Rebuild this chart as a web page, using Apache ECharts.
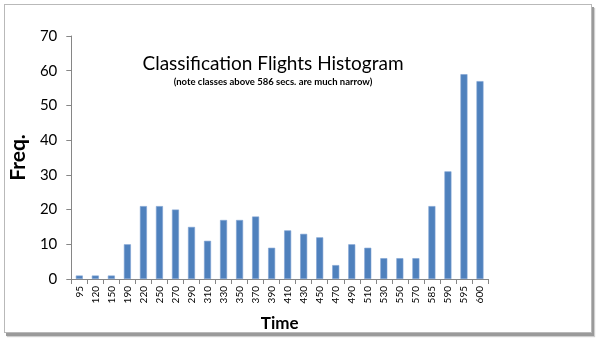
<!DOCTYPE html>
<html>
<head>
<meta charset="utf-8">
<script src="https://cdn.jsdelivr.net/npm/echarts@6/dist/echarts.min.js"></script>
<style>
  html, body { margin: 0; padding: 0; background: #ffffff; }
  #frame {
    position: absolute; left: 4px; top: 4px; width: 586px; height: 327px;
    border: 1px solid #b9b9b9; background: #fff;
    box-shadow: 2px 3px 0 #9a9a9a, 3px 4px 1px #cfcfcf;
  }
  #chart { position: absolute; left: 0; top: 0; width: 600px; height: 342px; }
</style>
</head>
<body>
<div id="frame"></div>
<div id="chart"></div>
<script>
// Class upper bounds (seconds) and counts per class
const timeClasses = ['95','120','150','190','220','250','270','290','310','330','350','370','390',
                     '410','430','450','470','490','510','530','550','570','585','590','595','600'];
const frequencies = [1, 1, 1, 10, 21, 21, 20, 15, 11, 17, 17, 18, 9,
                     14, 13, 12, 4, 10, 9, 6, 6, 6, 21, 31, 59, 57];
const yTicks = [0, 10, 20, 30, 40, 50, 60, 70];

const chart = echarts.init(document.getElementById('chart'), null, { renderer: 'canvas' });
const axisGray = '#868686';
const font = 'Lato, "Open Sans", sans-serif';

chart.setOption({
  animation: false,
  title: {
    text: 'Classification Flights Histogram',
    subtext: '(note classes above 586 secs. are much narrow)',
    left: 268, top: 49, textAlign: 'center',
    itemGap: 4,
    textStyle: { fontFamily: font, fontSize: 19, fontWeight: 'normal', color: '#000' },
    subtextStyle: { fontFamily: font, fontSize: 9.5, fontWeight: 'bold', color: '#000' }
  },
  grid: { left: 71, right: 112, top: 36, bottom: 63 },
  xAxis: {
    type: 'category',
    data: timeClasses,
    boundaryGap: true,
    name: 'Time',
    nameLocation: 'middle',
    nameGap: 36,
    nameTextStyle: { fontFamily: font, fontSize: 17, fontWeight: 'bold', color: '#000' },
    axisLine: { lineStyle: { color: axisGray, width: 1 } },
    axisTick: { show: true, length: 5, lineStyle: { color: axisGray } },
    axisLabel: { rotate: 90, fontFamily: font, fontSize: 10, color: '#000', margin: 7, interval: 0 }
  },
  yAxis: {
    type: 'value',
    min: yTicks[0], max: yTicks[yTicks.length - 1], interval: 10,
    name: 'Freq.',
    nameLocation: 'middle',
    nameRotate: 90,
    nameGap: 34,
    nameTextStyle: { fontFamily: font, fontSize: 21, fontWeight: 'bold', color: '#000' },
    splitLine: { show: false },
    axisLine: { show: true, lineStyle: { color: axisGray, width: 1 } },
    axisTick: { show: true, length: 5, lineStyle: { color: axisGray } },
    axisLabel: { fontFamily: font, fontSize: 15, color: '#000', margin: 14 }
  },
  series: [{
    type: 'bar',
    data: frequencies,
    barWidth: 7,
    itemStyle: { color: '#4f81bd', borderColor: '#7fa3d3', borderWidth: 0.6 }
  }]
});
</script>
</body>
</html>
